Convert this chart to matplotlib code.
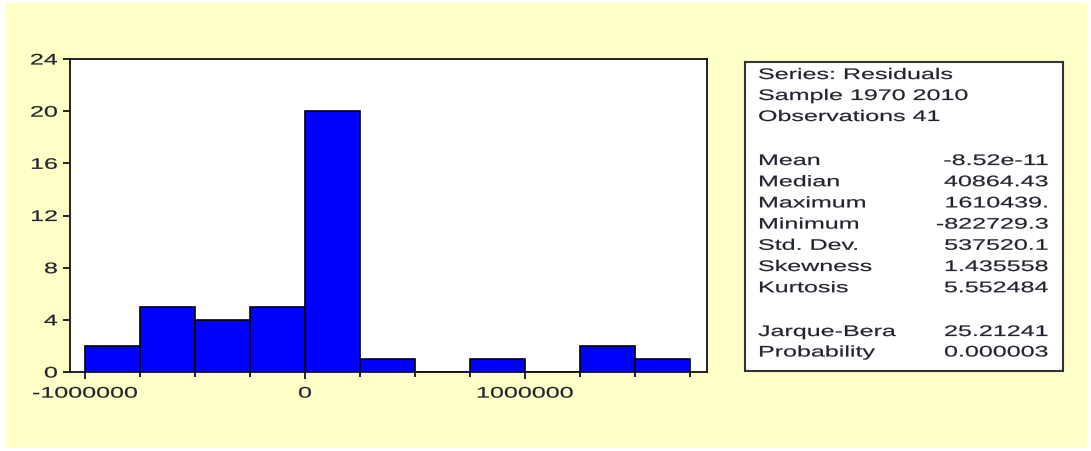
import numpy as np
import matplotlib.pyplot as plt
from matplotlib.patches import Rectangle
from matplotlib.patheffects import AbstractPathEffect
from matplotlib.transforms import Affine2D
from matplotlib.ticker import MultipleLocator, FixedLocator

# Histogram of residuals: bin edges and counts
bin_edges = [-1000000, -750000, -500000, -250000, 0, 250000, 500000,
             750000, 1000000, 1250000, 1500000, 1750000]
counts = [2, 5, 4, 5, 20, 1, 0, 1, 0, 2, 1]
xtick_vals = [-1000000, 0, 1000000]
xtick_labels = ["-1000000", "0", "1000000"]

# Descriptive statistics panel
header_lines = ["Series: Residuals", "Sample 1970 2010", "Observations 41"]
stat_names = ["Mean", "Median", "Maximum", "Minimum", "Std. Dev.",
              "Skewness", "Kurtosis"]
stat_values = ["-8.52e-11", "40864.43", "1610439.", "-822729.3",
               "537520.1", "1.435558", "5.552484"]
test_names = ["Jarque-Bera", "Probability"]
test_values = ["25.21241", "0.000003"]


class WideText(AbstractPathEffect):
    """Stretch glyphs horizontally, keeping the aligned edge in place."""

    def __init__(self, sx, anchor="left", weight=0.15):
        super().__init__()
        self.sx = sx
        self.anchor = anchor
        self.weight = weight

    def draw_path(self, renderer, gc, tpath, affine, rgbFace=None):
        ext = tpath.get_extents()
        if self.anchor == "right":
            x0 = ext.x1
        elif self.anchor == "center":
            x0 = 0.5 * (ext.x0 + ext.x1)
        else:
            x0 = 0.0
        stretch = Affine2D().translate(-x0, 0).scale(self.sx, 1).translate(x0, 0)
        gc0 = renderer.new_gc()
        gc0.copy_properties(gc)
        gc0.set_linewidth(self.weight)
        gc0.set_foreground(rgbFace)
        renderer.draw_path(gc0, tpath, stretch + affine, rgbFace)
        gc0.restore()


W, H = 1091, 451
bg = "#ffffc8"
txt = "#23232f"
SX = 1.64
fs = 11
plt.rcParams['font.family'] = ['Liberation Sans', 'DejaVu Sans']

fig = plt.figure(figsize=(W / 100, H / 100), dpi=100)
fig.patch.set_facecolor("white")
fig.patches.append(Rectangle((6 / W, 3 / H), 1081 / W, 445 / H,
                             transform=fig.transFigure, facecolor=bg,
                             edgecolor="none", zorder=-10))

ax = fig.add_axes([70 / W, 1 - 372 / H, 637 / W, 313 / H])
ax.set_facecolor("white")
widths = np.diff(bin_edges)
ax.bar(bin_edges[:-1], counts, width=widths, align="edge", color="#0000ff",
       edgecolor="black", linewidth=1.2)

ax.set_xlim(-1068000, 1827000)
ax.set_ylim(0, 24)
ax.yaxis.set_major_locator(MultipleLocator(4))
ax.xaxis.set_major_locator(FixedLocator(xtick_vals))
ax.xaxis.set_minor_locator(FixedLocator(bin_edges))
ax.set_xticklabels(xtick_labels)
for s in ax.spines.values():
    s.set_linewidth(1.3)
    s.set_color("#111111")
ax.tick_params(axis="both", which="major", direction="out", length=5,
               width=1.2, labelsize=fs, labelcolor=txt)
ax.tick_params(axis="x", which="major", pad=5.5)
ax.tick_params(axis="y", which="major", pad=4)
ax.tick_params(axis="x", which="minor", direction="out", length=3.8, width=1.2)
for lab in ax.get_xticklabels():
    lab.set_path_effects([WideText(SX, "center")])
for lab in ax.get_yticklabels():
    lab.set_path_effects([WideText(SX, "right")])

# Statistics box
bx = fig.add_axes([745 / W, 1 - 371 / H, 318 / W, 309 / H])
bx.set_xlim(745, 1063)
bx.set_ylim(371, 62)
bx.set_xticks([])
bx.set_yticks([])
bx.set_facecolor("white")
for s in bx.spines.values():
    s.set_linewidth(1.5)
    s.set_color("#333333")

left_fx = [WideText(SX, "left")]
right_fx = [WideText(SX, "right")]
x_left, x_right = 758, 1048


def row(y, name, value=None):
    bx.text(x_left, y, name, fontsize=fs, color=txt, va="center",
            path_effects=left_fx)
    if value is not None:
        bx.text(x_right, y, value, fontsize=fs, color=txt, va="center",
                ha="right", path_effects=right_fx)


for i, line in enumerate(header_lines):
    row(75 + i * 21, line)
for i, (n, v) in enumerate(zip(stat_names, stat_values)):
    row(161 + i * 21.2, n, v)
for i, (n, v) in enumerate(zip(test_names, test_values)):
    row(332 + i * 20.5, n, v)

fig.savefig("out.png", dpi=100, facecolor=fig.get_facecolor())
